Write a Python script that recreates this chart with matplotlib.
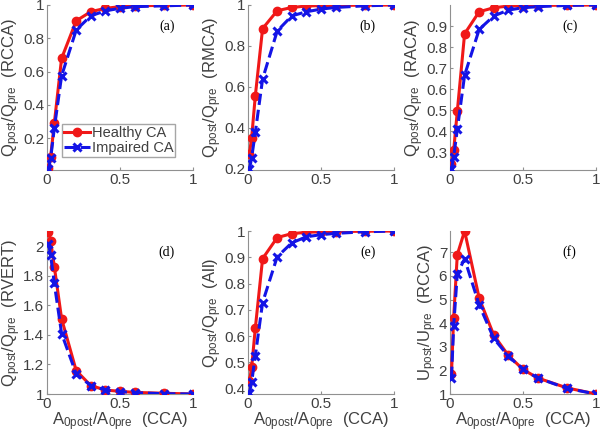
import numpy as np
import matplotlib.pyplot as plt

plt.rcParams['mathtext.default'] = 'regular'
plt.rcParams['font.family'] = ['Liberation Sans', 'DejaVu Sans']

x = [0.01, 0.025, 0.05, 0.1, 0.2, 0.3, 0.4, 0.5, 0.6, 0.8, 1.0]

rcca_h = [0.02, 0.09, 0.29, 0.68, 0.905, 0.96, 0.98, 0.99, 0.995, 0.998, 1.0]
rcca_i = [0.015, 0.08, 0.26, 0.575, 0.85, 0.935, 0.965, 0.98, 0.99, 0.995, 1.0]

rmca_h = [0.275, 0.353, 0.556, 0.885, 0.972, 0.988, 0.995, 0.997, 0.998, 0.999, 1.0]
rmca_i = [0.2, 0.255, 0.378, 0.639, 0.873, 0.947, 0.967, 0.98, 0.988, 0.996, 1.0]

raca_h = [0.245, 0.308, 0.494, 0.863, 0.968, 0.987, 0.995, 0.997, 0.998, 0.999, 1.0]
raca_i = [0.22, 0.276, 0.408, 0.666, 0.884, 0.948, 0.976, 0.987, 0.992, 0.998, 1.0]

rvert_h = [2.10, 2.04, 1.864, 1.51, 1.158, 1.057, 1.027, 1.018, 1.011, 1.005, 1.0]
rvert_i = [2.02, 1.94, 1.75, 1.41, 1.136, 1.057, 1.027, 1.016, 1.009, 1.002, 1.0]

all_h = [0.43, 0.481, 0.63, 0.895, 0.975, 0.99, 0.995, 0.997, 0.998, 0.999, 1.0]
all_i = [0.385, 0.425, 0.525, 0.728, 0.902, 0.955, 0.978, 0.986, 0.991, 0.997, 1.0]

u_h = [1.83, 4.22, 6.9, 7.9, 5.05, 3.49, 2.63, 2.04, 1.68, 1.26, 1.0]
u_i = [1.68, 3.87, 6.09, 6.72, 4.77, 3.35, 2.6, 2.04, 1.68, 1.24, 1.0]

panels = [
    (rcca_h, rcca_i, 'Q', 'RCCA', '(a)', (0.01, 1.0), np.arange(0.2, 1.01, 0.2), ['0.2', '0.4', '0.6', '0.8', '1']),
    (rmca_h, rmca_i, 'Q', 'RMCA', '(b)', (0.195, 1.0), np.arange(0.2, 1.01, 0.2), ['0.2', '0.4', '0.6', '0.8', '1']),
    (raca_h, raca_i, 'Q', 'RACA', '(c)', (0.215, 1.0), np.arange(0.3, 0.91, 0.1), ['0.3', '0.4', '0.5', '0.6', '0.7', '0.8', '0.9']),
    (rvert_h, rvert_i, 'Q', 'RVERT', '(d)', (1.0, 2.105), np.arange(1.0, 2.01, 0.2), ['1', '1.2', '1.4', '1.6', '1.8', '2']),
    (all_h, all_i, 'Q', 'All', '(e)', (0.38, 1.0), np.arange(0.4, 1.01, 0.1), ['0.4', '0.5', '0.6', '0.7', '0.8', '0.9', '1']),
    (u_h, u_i, 'U', 'RCCA', '(f)', (1.0, 7.9), np.arange(1, 8), ['1', '2', '3', '4', '5', '6', '7']),
]

# axes positions in pixels, converted to figure fractions
W, H = 600, 434
lefts = [47, 248, 450]
tops = [5, 231]
bottoms = [170, 394]

fig = plt.figure(figsize=(6, 4.34), dpi=100)
txt = '#404040'

for k, (yh, yi, q, name, tag, ylim, yt, ytl) in enumerate(panels):
    r, c = divmod(k, 3)
    l = lefts[c]
    ax = fig.add_axes([l / W, 1 - bottoms[r] / H, 146 / W, (bottoms[r] - tops[r]) / H])
    ax.plot(x, yh, '-o', color='#f01818', lw=2.2, ms=6, label='Healthy CA', zorder=3)
    ax.plot(x, yi, '--x', color='#1414e6', lw=2.2, ms=6, mew=2.2, label='Impaired CA', zorder=4)
    ax.set_xlim(0, 1)
    ax.set_ylim(*ylim)
    ax.set_xticks([0, 0.5, 1])
    ax.set_xticklabels(['0', '0.5', '1'])
    ax.set_yticks(yt)
    ax.set_yticklabels(ytl)
    for s in ['top', 'right']:
        ax.spines[s].set_visible(False)
    for s in ['left', 'bottom']:
        ax.spines[s].set_color('#909090')
        ax.spines[s].set_linewidth(0.8)
    ax.tick_params(direction='in', length=2, colors='#909090', labelcolor=txt, labelsize=11, pad=2)
    ax.set_ylabel('%s$_{post}$/%s$_{pre}$  (%s)' % (q, q, name), color=txt, fontsize=12, labelpad=0)
    if r == 1:
        ax.set_xlabel('A$_{0post}$/A$_{0pre}$  (CCA)', color=txt, fontsize=12, labelpad=0)
    ax.text(0.82, 0.87, tag, transform=ax.transAxes, fontsize=10, family='Liberation Serif',
            ha='center', va='center')
    if k == 0:
        ax.legend(loc='lower right', bbox_to_anchor=(0.88, 0.08), fontsize=10.5, frameon=True, fancybox=False,
                  edgecolor='#909090', handlelength=1.8, handletextpad=0.1, borderpad=0.15,
                  labelspacing=0.05, borderaxespad=0, labelcolor=txt)

plt.savefig('out.png', dpi=100)
